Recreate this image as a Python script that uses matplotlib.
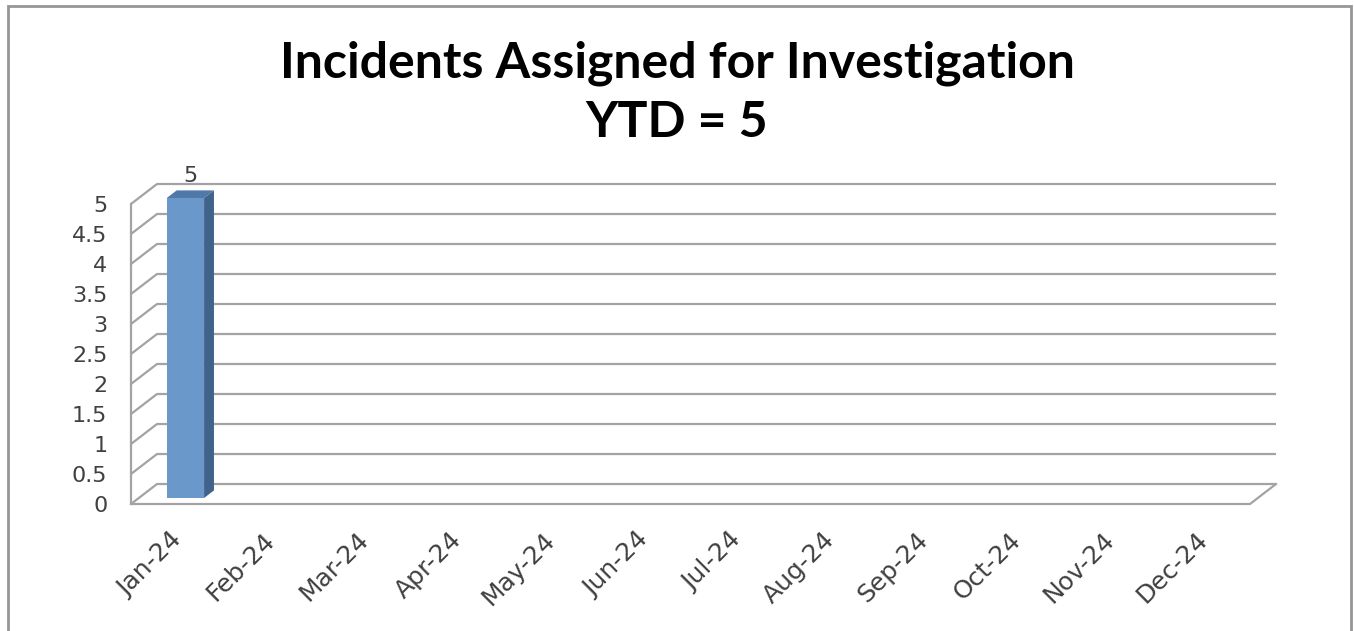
import matplotlib.pyplot as plt
import numpy as np
from matplotlib.patches import Polygon, Rectangle
from matplotlib.transforms import ScaledTranslation

# data
months = ['Jan-24', 'Feb-24', 'Mar-24', 'Apr-24', 'May-24', 'Jun-24',
          'Jul-24', 'Aug-24', 'Sep-24', 'Oct-24', 'Nov-24', 'Dec-24']
incidents = [5, 0, 0, 0, 0, 0, 0, 0, 0, 0, 0, 0]
y_ticks = [0, 0.5, 1, 1.5, 2, 2.5, 3, 3.5, 4, 4.5, 5]
y_tick_labels = ['0', '0.5', '1', '1.5', '2', '2.5', '3', '3.5', '4', '4.5', '5']
title = 'Incidents Assigned for Investigation\nYTD = 5'

# fake 3D: oblique depth offset (x in categories, y in value units)
DX, DY = 0.279, 0.333
x0, x1 = -0.5, len(months) - 0.5
y_max = 5
grid_col = '#a3a3a3'
label_col = '#404040'

fig = plt.figure(figsize=(13.54, 6.31), dpi=100)
fig.patches.append(Rectangle((8 / 1354, -0.1), (1351 - 8) / 1354, 1.1 - 6 / 631,
                             transform=fig.transFigure, fill=False,
                             edgecolor='#969696', linewidth=2))

ax = fig.add_axes([131 / 1354, (631 - 504) / 631, (1276 - 131) / 1354, (504 - 184) / 631])
ax.set_xlim(x0, x1 + DX)
ax.set_ylim(0, y_max + DY)
ax.patch.set_visible(False)
for s in ax.spines.values():
    s.set_visible(False)

# walls and floor
lw = 1.6
for v in y_ticks:
    ax.plot([x0, x0 + DX, x1 + DX], [v, v + DY, v + DY], color=grid_col, lw=lw,
            clip_on=False, solid_capstyle='butt', zorder=1)
ax.plot([x0, x0], [0, y_max], color=grid_col, lw=lw, clip_on=False, zorder=1)
ax.plot([x0, x1, x1 + DX], [0, 0, DY], color=grid_col, lw=lw, clip_on=False, zorder=1)

# bars
bw = 0.4
d0, d1 = 0.3, 0.68
front_col, side_col, top_col = '#6b98cb', '#41628a', '#4f79a8'
for i, v in enumerate(incidents):
    if v <= 0:
        continue
    fx = i + d0 * DX
    fy = d0 * DY
    ddx = (d1 - d0) * DX
    ddy = (d1 - d0) * DY
    l, r = fx - bw / 2, fx + bw / 2
    front = Polygon([(l, fy), (r, fy), (r, fy + v), (l, fy + v)], closed=True,
                    facecolor=front_col, edgecolor='none', zorder=3, clip_on=False)
    side = Polygon([(r, fy), (r + ddx, fy + ddy), (r + ddx, fy + ddy + v), (r, fy + v)],
                   closed=True, facecolor=side_col, edgecolor='none', zorder=3, clip_on=False)
    top = Polygon([(l, fy + v), (r, fy + v), (r + ddx, fy + v + ddy), (l + ddx, fy + v + ddy)],
                  closed=True, facecolor=top_col, edgecolor='none', zorder=3, clip_on=False)
    for p in (front, side, top):
        ax.add_patch(p)
    ax.annotate(str(v), (fx + ddx / 2, fy + v + ddy), xytext=(0, 3), textcoords='offset points',
                ha='center', va='bottom', fontsize=16, color=label_col, family='DejaVu Sans')

ax.set_yticks(y_ticks)
ax.set_yticklabels(y_tick_labels, fontsize=16, color=label_col, family='DejaVu Sans')
ax.tick_params(axis='y', length=0, pad=17)
ax.set_xticks(np.arange(len(months)))
ax.set_xticklabels(months, rotation=45, ha='right', rotation_mode='anchor',
                   fontsize=18, color=label_col, family='DejaVu Sans')
ax.tick_params(axis='x', length=0, pad=17)
shift = ScaledTranslation(-8 / 100, 0, fig.dpi_scale_trans)
for lab in ax.get_xticklabels():
    lab.set_transform(lab.get_transform() + shift)

fig.text(0.5, 1 - 40 / 631, title, ha='center', va='top', fontsize=36,
         fontweight='bold', family='Lato', linespacing=1.4)

fig.savefig('out.png', dpi=100)
